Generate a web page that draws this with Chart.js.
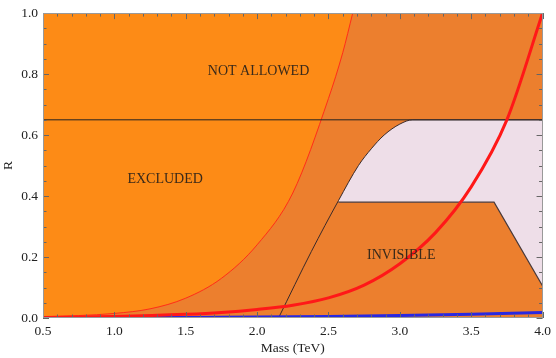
<!DOCTYPE html>
<html>
<head>
<meta charset="utf-8">
<script src="https://cdn.jsdelivr.net/npm/chart.js@4.4.0/dist/chart.umd.min.js"></script>
<style>
  html, body { margin: 0; padding: 0; background: #fff; }
</style>
</head>
<body>
<canvas id="chart" width="556" height="358"></canvas>
<script>
// boundary of the excluded region (thin red)
const excludedMass = [0.5, 0.75, 1.0, 1.25, 1.5, 1.75, 2.0, 2.25, 2.5, 2.6, 2.67];
const excludedR = [0.004, 0.008, 0.015, 0.03, 0.065, 0.13, 0.24, 0.41, 0.72, 0.87, 1.0];

// thick red curve
const redMass = [0.5, 1.0, 1.5, 1.75, 2.0, 2.25, 2.5, 2.75, 3.0, 3.25, 3.5, 3.75, 4.0];
const redR = [0.002, 0.005, 0.012, 0.018, 0.028, 0.042, 0.066, 0.108, 0.178, 0.28, 0.43, 0.65, 1.0];

// blue curve
const blueMass = [0.5, 1.5, 2.5, 3.0, 3.5, 4.0];
const blueR = [0.001, 0.002, 0.005, 0.008, 0.012, 0.018];

// black edge of the allowed (pink) region
const edgeMass = [2.15, 2.38, 2.57, 2.71, 2.8, 2.89, 3.0, 3.09, 4.0];
const edgeR = [0, 0.218, 0.385, 0.5, 0.555, 0.6, 0.636, 0.65, 0.65];

// lower edge of the pink region (top of INVISIBLE)
const invisibleMass = [2.57, 3.66, 4.0];
const invisibleR = [0.38, 0.38, 0.105];

// R = 0.65 limit
const allowedMass = [0.5, 4.0];
const allowedR = [0.65, 0.65];

const massTicks = [0.5, 1.0, 1.5, 2.0, 2.5, 3.0, 3.5, 4.0];
const rTicks = [0.0, 0.2, 0.4, 0.6, 0.8, 1.0];

const regionLabels = [
    { text: "NOT ALLOWED", x: 2.01, y: 0.81 },
    { text: "EXCLUDED", x: 1.356, y: 0.455 },
    { text: "INVISIBLE", x: 3.01, y: 0.205 },
];

function zip(xs, ys) {
    return xs.map((x, i) => ({ x, y: ys[i] }));
}

const pinkUpper = zip(edgeMass, edgeR).filter((p) => p.x >= 2.57);

const SERIF = "'Liberation Serif', 'DejaVu Serif', serif";

const background = {
    id: "background",
    beforeDatasetsDraw(chart) {
        const { ctx, chartArea: a } = chart;
        ctx.save();
        ctx.fillStyle = "rgb(236,127,46)";
        ctx.fillRect(a.left, a.top, a.right - a.left, a.bottom - a.top);
        ctx.restore();
    },
};

const regionText = {
    id: "regionText",
    afterDatasetsDraw(chart) {
        const { ctx, scales: { x, y } } = chart;
        ctx.save();
        ctx.font = "14px " + SERIF;
        ctx.fillStyle = "#3a2a1a";
        ctx.textAlign = "center";
        ctx.textBaseline = "middle";
        regionLabels.forEach((l) => {
            ctx.fillText(l.text, x.getPixelForValue(l.x), y.getPixelForValue(l.y));
        });
        ctx.restore();
    },
};

// Mathematica style frame with inward ticks on all sides
const frameTicks = {
    id: "frameTicks",
    afterDraw(chart) {
        const { ctx, chartArea: a, scales: { x, y } } = chart;
        ctx.save();
        ctx.lineWidth = 1;
        ctx.strokeStyle = "#666";
        ctx.beginPath();
        for (let i = 5; i <= 40; i++) {
            const px = Math.round(x.getPixelForValue(i / 10)) + 0.5;
            const len = i % 5 === 0 ? 6 : 3.5;
            ctx.moveTo(px, a.bottom);
            ctx.lineTo(px, a.bottom - len);
            ctx.moveTo(px, a.top);
            ctx.lineTo(px, a.top + len);
        }
        for (let i = 0; i <= 20; i++) {
            const py = Math.round(y.getPixelForValue(i / 20)) + 0.5;
            const len = i % 4 === 0 ? 6 : 3.5;
            ctx.moveTo(a.left, py);
            ctx.lineTo(a.left + len, py);
            ctx.moveTo(a.right, py);
            ctx.lineTo(a.right - len, py);
        }
        ctx.stroke();
        ctx.strokeStyle = "#999";
        ctx.strokeRect(Math.round(a.left) + 0.5, Math.round(a.top) + 0.5,
            Math.round(a.right - a.left) - 1, Math.round(a.bottom - a.top) - 1);
        ctx.restore();
    },
};

const line = (data, color, width, extra) => Object.assign({
    data,
    showLine: true,
    borderColor: color,
    borderWidth: width,
    pointRadius: 0,
    fill: false,
}, extra || {});

const tickFont = { family: SERIF, size: 13.5 };

const config = {
    type: "scatter",
    data: {
        datasets: [
            line(zip(redMass, redR), "rgb(255,24,24)", 3, { cubicInterpolationMode: "monotone" }),
            line(zip(blueMass, blueR), "rgb(40,40,225)", 3),
            line(zip(edgeMass, edgeR), "#3a2a2a", 1, { cubicInterpolationMode: "monotone" }),
            line(zip(allowedMass, allowedR), "#222", 1),
            line(zip(invisibleMass, invisibleR), "#4a3a3a", 1.2),
            line(zip(excludedMass, excludedR), "rgb(255,45,25)", 1, {
                cubicInterpolationMode: "monotone",
                fill: "end",
                backgroundColor: "rgb(253,139,22)",
            }),
            line(pinkUpper, "rgba(0,0,0,0)", 0, {
                cubicInterpolationMode: "monotone",
                fill: { target: 4 },
                backgroundColor: "rgb(238,222,232)",
            }),
        ],
    },
    options: {
        responsive: false,
        animation: false,
        layout: { padding: { top: 6, right: 10, left: 0, bottom: 0 } },
        plugins: {
            legend: { display: false },
            tooltip: { enabled: false },
        },
        scales: {
            x: {
                type: "linear",
                min: 0.5,
                max: 4.0,
                afterFit: (s) => { s.height = 40; },
                afterBuildTicks: (s) => { s.ticks = massTicks.map((v) => ({ value: v })); },
                grid: { display: false, drawTicks: false },
                border: { display: false },
                ticks: {
                    padding: 5,
                    color: "#222",
                    font: tickFont,
                    callback: (v) => Number(v).toFixed(1),
                },
                title: {
                    display: true,
                    text: "Mass (TeV)",
                    color: "#222",
                    font: tickFont,
                    padding: { top: 0, bottom: 1 },
                },
            },
            y: {
                type: "linear",
                min: 0,
                max: 1,
                afterFit: (s) => { s.width = 43; },
                afterBuildTicks: (s) => { s.ticks = rTicks.map((v) => ({ value: v })); },
                grid: { display: false, drawTicks: false },
                border: { display: false },
                ticks: {
                    padding: 5,
                    color: "#222",
                    font: tickFont,
                    callback: (v) => Number(v).toFixed(1),
                },
                title: {
                    display: true,
                    text: "R",
                    color: "#222",
                    font: tickFont,
                    padding: { top: 0, bottom: 0 },
                },
            },
        },
    },
    plugins: [background, regionText, frameTicks],
};

new Chart(document.getElementById("chart").getContext("2d"), config);
</script>
</body>
</html>
